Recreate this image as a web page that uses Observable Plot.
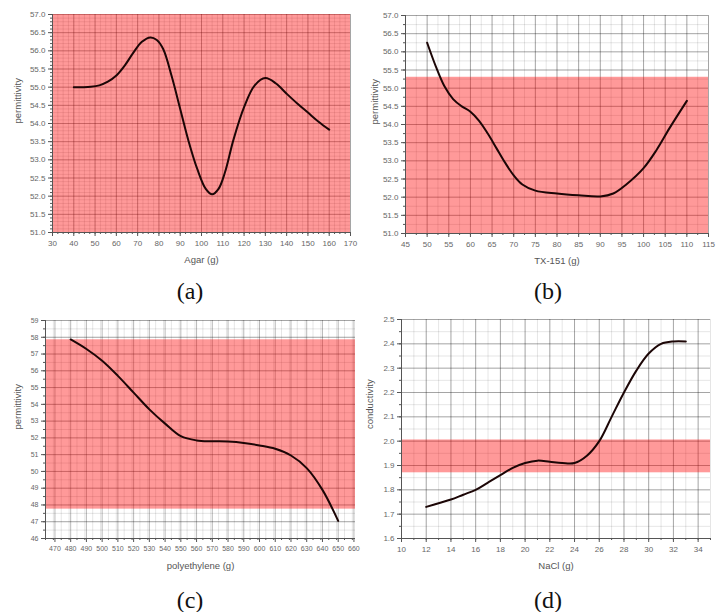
<!DOCTYPE html>
<html><head><meta charset="utf-8">
<script src="https://cdn.jsdelivr.net/npm/d3@7"></script>
<script src="https://cdn.jsdelivr.net/npm/@observablehq/plot@0.6"></script>
<style>
body{margin:0;background:#fff;}
#wrap{position:relative;width:728px;height:612px;font-family:"Liberation Sans",Arial,sans-serif;}
.panel{position:absolute;}
.cap{position:absolute;font-family:"Liberation Serif","DejaVu Serif",serif;font-size:24px;transform:translate(-50%,-50%);color:#111;}
</style></head><body><div id="wrap"></div>
<script>
// ---- (a) Agar ----
const agarX = [40,44,48,52,56,60,64,68,72,76,79,82,86,90,94,98,102,105,108,111,115,120,125,130,135,140,145,150,155,160];
const agarY = [55.0,55.0,55.01,55.05,55.15,55.32,55.6,55.95,56.25,56.37,56.3,56.05,55.3,54.4,53.5,52.75,52.2,52.05,52.2,52.65,53.55,54.45,55.05,55.25,55.1,54.82,54.55,54.3,54.05,53.83];
const agarTicksX = [30,40,50,60,70,80,90,100,110,120,130,140,150,160,170];
const agarTicksY = [51.0,51.5,52.0,52.5,53.0,53.5,54.0,54.5,55.0,55.5,56.0,56.5,57.0];
const agarBand = [51.0, 57.0];

// ---- (b) TX-151 ----
const txX = [50,52,54,56,58,60,62,64,66,68,70,72,75,80,85,90,93,96,100,103,106,110];
const txY = [56.25,55.6,55.05,54.7,54.5,54.35,54.1,53.75,53.35,52.95,52.6,52.35,52.18,52.1,52.05,52.02,52.1,52.35,52.8,53.3,53.9,54.65];
const txTicksX = [45,50,55,60,65,70,75,80,85,90,95,100,105,110,115];
const txTicksY = [51.0,51.5,52.0,52.5,53.0,53.5,54.0,54.5,55.0,55.5,56.0,56.5,57.0];
const txBand = [51.0, 55.3];

// ---- (c) polyethylene ----
const peX = [480,490,500,510,520,530,540,550,560,570,580,590,600,610,620,630,640,650];
const peY = [57.87,57.3,56.6,55.7,54.7,53.7,52.85,52.1,51.85,51.8,51.78,51.7,51.55,51.35,50.95,50.2,48.9,47.05];
const peTicksX = [470,480,490,500,510,520,530,540,550,560,570,580,590,600,610,620,630,640,650,660];
const peTicksY = [46,47,48,49,50,51,52,53,54,55,56,57,58,59];
const peBand = [47.75, 57.85];

// ---- (d) NaCl ----
const naclX = [12,13,14,15,16,17,18,19,20,21,22,23,24,25,26,27,28,29,30,31,32,33];
const naclY = [1.73,1.745,1.76,1.78,1.80,1.83,1.86,1.89,1.91,1.92,1.915,1.91,1.91,1.94,2.0,2.1,2.2,2.29,2.36,2.4,2.41,2.41];
const naclTicksX = [10,12,14,16,18,20,22,24,26,28,30,32,34];
const naclTicksY = [1.6,1.7,1.8,1.9,2.0,2.1,2.2,2.3,2.4,2.5];
const naclBand = [1.87, 2.005];

function panel(o) {
  const data = o.xs.map((x, i) => ({x, y: o.ys[i]}));
  const band = [{x1: o.xDomain[0], x2: o.xDomain[1], y1: o.band[0], y2: o.band[1]}];
  const minorX = d3.range(o.xDomain[0], o.xDomain[1] + 1e-9, o.minorX);
  const minorY = d3.range(o.yDomain[0], o.yDomain[1] + 1e-9, o.minorY);
  const chart = Plot.plot({
    width: o.width, height: o.height,
    marginLeft: o.ml, marginRight: o.mr, marginTop: o.mt, marginBottom: o.mb,
    style: {fontFamily: '"Liberation Sans", Arial, sans-serif', fontSize: o.fs || "8px", color: "#666", background: "transparent"},
    x: {domain: o.xDomain},
    y: {domain: o.yDomain},
    marks: [
      Plot.gridX({ticks: minorX, stroke: "#000", strokeOpacity: 0.1}),
      Plot.gridY({ticks: minorY, stroke: "#000", strokeOpacity: 0.1}),
      Plot.gridX({ticks: o.ticksX, stroke: "#000", strokeOpacity: 0.28}),
      Plot.gridY({ticks: o.ticksY, stroke: "#000", strokeOpacity: 0.28}),
      Plot.rect(band, {x1: "x1", x2: "x2", y1: "y1", y2: "y2", fill: "#ff0000", fillOpacity: 0.4}),
      Plot.ruleX([o.xDomain[0]], {stroke: "#555"}),
      Plot.ruleY([o.yDomain[0]], {stroke: "#555"}),
      Plot.axisX({ticks: minorX, tickSize: 2, tickFormat: () => "", label: null, stroke: "#555"}),
      Plot.axisY({ticks: minorY, tickSize: 2, tickFormat: () => "", label: null, stroke: "#555"}),
      Plot.axisX({ticks: o.ticksX, tickSize: 4, tickPadding: 4, tickFormat: o.fmtX, label: null, stroke: "#555"}),
      Plot.axisY({ticks: o.ticksY, tickSize: 4, tickPadding: 3, tickFormat: o.fmtY, label: null, stroke: "#555"}),
      Plot.text([o.xLabel], {frameAnchor: "bottom", dy: 30, fontSize: 9.5, fill: "#555"}),
      Plot.text([o.yLabel], {frameAnchor: "left", dx: -o.yOff, rotate: -90, fontSize: 9.5, fill: "#555"}),
      Plot.line(data, {x: "x", y: "y", curve: "catmull-rom", stroke: "#1c0606", strokeWidth: 2})
    ]
  });
  const div = document.createElement("div");
  div.className = "panel";
  div.style.left = o.left + "px";
  div.style.top = o.top + "px";
  div.appendChild(chart);
  document.getElementById("wrap").appendChild(div);
}

function caption(txt, x, y) {
  const d = document.createElement("div");
  d.className = "cap";
  d.textContent = txt;
  d.style.left = x + "px";
  d.style.top = y + "px";
  document.getElementById("wrap").appendChild(d);
}

const f1 = d3.format(".1f");
const f0 = d3.format("d");

panel({left: 0, top: 0, width: 364, height: 275, ml: 52, mr: 14, mt: 14, mb: 43,
  xs: agarX, ys: agarY, xDomain: [30, 170], yDomain: [51, 57], ticksX: agarTicksX, ticksY: agarTicksY,
  minorX: 2.5, minorY: 0.1, band: agarBand, fmtX: f0, fmtY: f1, xLabel: "Agar (g)", yLabel: "permittivity", yOff: 35});

panel({left: 364, top: 0, width: 364, height: 275, ml: 41, mr: 20, mt: 15, mb: 42,
  xs: txX, ys: txY, xDomain: [45, 115], yDomain: [51, 57], ticksX: txTicksX, ticksY: txTicksY,
  minorX: 2.5, minorY: 0.25, band: txBand, fmtX: f0, fmtY: f1, xLabel: "TX-151 (g)", yLabel: "permittivity", yOff: 31});

panel({left: 0, top: 306, width: 364, height: 275, ml: 45, mr: 9, mt: 14, mb: 43,
  xs: peX, ys: peY, xDomain: [464, 661], yDomain: [46, 59], ticksX: peTicksX, ticksY: peTicksY,
  minorX: 5, minorY: 0.5, band: peBand, fmtX: f0, fmtY: f0, xLabel: "polyethylene (g)", yLabel: "permittivity", yOff: 28, fs: "7px"});

panel({left: 364, top: 306, width: 364, height: 275, ml: 37, mr: 18, mt: 13, mb: 43,
  xs: naclX, ys: naclY, xDomain: [10, 35], yDomain: [1.6, 2.5], ticksX: naclTicksX, ticksY: naclTicksY,
  minorX: 1, minorY: 0.05, band: naclBand, fmtX: f0, fmtY: f1, xLabel: "NaCl (g)", yLabel: "conductivity", yOff: 32});

caption("(a)", 190, 291);
caption("(b)", 548, 291);
caption("(c)", 190, 600);
caption("(d)", 548, 600);
</script>
</body></html>
